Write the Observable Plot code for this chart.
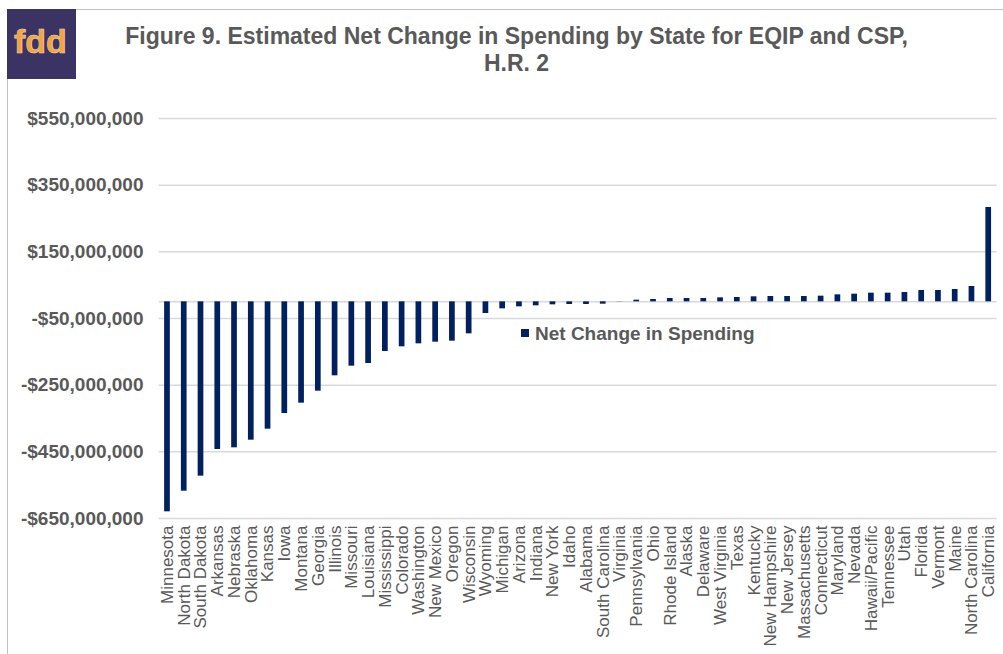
<!DOCTYPE html>
<html>
<head>
<meta charset="utf-8">
<script src="https://cdn.jsdelivr.net/npm/d3@7"></script>
<script src="https://cdn.jsdelivr.net/npm/@observablehq/plot@0.6"></script>
<style>
  html, body { margin: 0; padding: 0; background: #fff; }
  #wrap { position: relative; width: 1003px; height: 654px; overflow: hidden; font-family: "Liberation Sans", Arial, sans-serif; }
  #border { position: absolute; left: 7px; top: 9px; width: 1010px; height: 700px; border-left: 1.5px solid #c0c0c0; border-top: 1.5px solid #c0c0c0; }
  #logo { position: absolute; left: 7px; top: 9px; width: 69px; height: 70px; background: #3a3363; }
  #logo span { position: absolute; left: 7px; top: 15px; font: bold 34px "Liberation Sans", Arial, sans-serif; color: #f5a33a; line-height: 34px; -webkit-text-stroke: 0.6px #e8d8c8; }
  #title { position: absolute; left: 80px; width: 873px; top: 23px; text-align: center; font-weight: bold; font-size: 23px; line-height: 27px; color: #595959; }
  #chart { position: absolute; left: 0; top: 0; }
  #legend { position: absolute; left: 521px; top: 323px; font-weight: bold; font-size: 19px; color: #595959; white-space: nowrap; }
  #legend i { display: inline-block; width: 8px; height: 8px; background: #002060; margin-right: 6px; vertical-align: 3px; }
</style>
</head>
<body>
<div id="wrap">
  <div id="border"></div>
  <div id="logo"><span>fdd</span></div>
  <div id="title">Figure 9. Estimated Net Change in Spending by State for EQIP and CSP,<br>H.R. 2</div>
  <div id="chart"></div>
  <div id="legend"><i></i>Net Change in Spending</div>
</div>
<script>
const states = ["Minnesota","North Dakota","South Dakota","Arkansas","Nebraska","Oklahoma","Kansas","Iowa","Montana","Georgia","Illinois","Missouri","Louisiana","Mississippi","Colorado","Washington","New Mexico","Oregon","Wisconsin","Wyoming","Michigan","Arizona","Indiana","New York","Idaho","Alabama","South Carolina","Virginia","Pennsylvania","Ohio","Rhode Island","Alaska","Delaware","West Virginia","Texas","Kentucky","New Hampshire","New Jersey","Massachusetts","Connecticut","Maryland","Nevada","Hawaii/Pacific","Tennessee","Utah","Florida","Vermont","Maine","North Carolina","California"];
const netChange = [-630e6,-568e6,-523e6,-443e6,-438e6,-415e6,-382e6,-335e6,-304e6,-268e6,-222e6,-193e6,-185e6,-149e6,-135e6,-126e6,-121e6,-118e6,-96e6,-35e6,-21e6,-15e6,-12e6,-9e6,-8e6,-8e6,-7e6,-0.5e6,5e6,7e6,10e6,10e6,10e6,12e6,13e6,15e6,16e6,16e6,16e6,17e6,21e6,23e6,26e6,26e6,28e6,34e6,34e6,37e6,46e6,283e6];
const yTicks = [-650e6,-450e6,-250e6,-50e6,150e6,350e6,550e6];

const data = states.map((s, i) => ({state: s, value: netChange[i]}));
const fmt = d => (d < 0 ? "-" : "") + "$" + d3.format(",")(Math.abs(d));

const chart = Plot.plot({
  width: 1003,
  height: 654,
  marginLeft: 158.6,
  marginRight: 6.4,
  marginTop: 118,
  marginBottom: 136,
  style: {fontFamily: '"Liberation Sans", Arial, sans-serif', background: "transparent"},
  x: {domain: states, paddingInner: 0.66, paddingOuter: 0.33, label: null},
  y: {domain: [-650e6, 550e6], label: null},
  marks: [
    Plot.ruleY(yTicks, {stroke: "#d9d9d9", strokeWidth: 1.5}),
    Plot.ruleY([0], {stroke: "#d9d9d9", strokeWidth: 1.5}),
    Plot.barY(data, {x: "state", y: "value", fill: "#002060"}),
    Plot.axisY(yTicks, {tickSize: 0, tickPadding: 15.6, tickFormat: fmt, fontSize: 19, fontWeight: "bold", fill: "#595959", label: null}),
    Plot.axisX({tickSize: 0, tickPadding: 7, tickRotate: -90, fontSize: 17, fill: "#595959", label: null})
  ]
});
document.getElementById("chart").appendChild(chart);
</script>
</body>
</html>
